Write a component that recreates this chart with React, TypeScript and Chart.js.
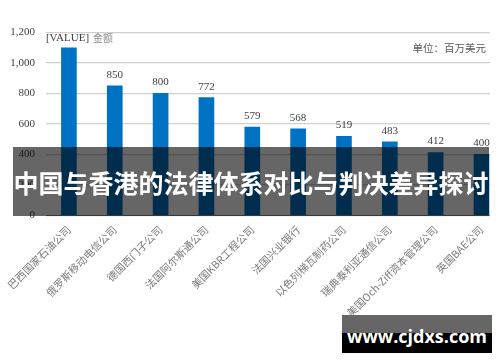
import React, { useEffect, useRef } from 'react';
import { Chart, registerables } from 'chart.js';

Chart.register(...registerables);

const categories = [
  '巴西国家石油公司',
  '俄罗斯移动电信公司',
  '德国西门子公司',
  '法国阿尔斯通公司',
  '美国KBR工程公司',
  '法国兴业银行',
  '以色列梯瓦制药公司',
  '瑞典泰利亚通信公司',
  '美国Och-Ziff资本管理公司',
  '英国BAE公司',
];
const values = [1100, 850, 800, 772, 579, 568, 519, 483, 412, 400];
const valueLabels = ['[VALUE]', '850', '800', '772', '579', '568', '519', '483', '412', '400'];
const firstLabelSuffix = '金额';
const yMin = 0;
const yMax = 1200;
const yStep = 200;
const unitText = '单位：百万美元';
const bannerTitle = '中国与香港的法律体系对比与判决差异探讨';
const watermarkText = 'www.cjdxs.com';

const CANVAS_W = 520;
const CANVAS_H = 362;

export default function App() {
  const canvasRef = useRef<HTMLCanvasElement | null>(null);

  useEffect(() => {
    const canvas = canvasRef.current;
    if (!canvas) return;

    const labelPlugin = {
      id: 'valueLabels',
      afterDatasetsDraw(chart: any) {
        const ctx = chart.ctx;
        const meta = chart.getDatasetMeta(0);
        ctx.save();
        meta.data.forEach((bar: any, i: number) => {
          const { x, y } = bar.getProps(['x', 'y'], true);
          ctx.textBaseline = 'middle';
          if (i === 0) {
            ctx.font = '11px "Liberation Serif"';
            ctx.fillStyle = '#404040';
            ctx.textAlign = 'left';
            const sx = x - 23;
            ctx.fillText(valueLabels[i], sx, y - 10);
            const w = ctx.measureText(valueLabels[i]).width;
            ctx.font = '10px "Noto Sans CJK SC"';
            ctx.fillStyle = '#8c8c8c';
            ctx.fillText(firstLabelSuffix, sx + w + 4, y - 10);
          } else {
            ctx.font = '11px "Liberation Serif"';
            ctx.fillStyle = '#404040';
            ctx.textAlign = 'center';
            ctx.fillText(valueLabels[i], x, y - 11);
          }
        });
        ctx.font = '10.5px "Noto Sans CJK SC"';
        ctx.fillStyle = '#595959';
        ctx.textAlign = 'right';
        ctx.textBaseline = 'middle';
        ctx.fillText(unitText, 486, 48);
        ctx.restore();
      },
    };

    const chart = new Chart(canvas, {
      type: 'bar',
      data: {
        labels: categories,
        datasets: [
          {
            data: values,
            backgroundColor: '#0072c4',
            borderWidth: 0,
            barThickness: 15,
          },
        ],
      },
      options: {
        responsive: false,
        animation: false,
        devicePixelRatio: 1,
        layout: { padding: { top: 32.5, right: 15.6, bottom: 46.7, left: 0 } },
        plugins: {
          legend: { display: false },
          tooltip: { enabled: false },
        },
        scales: {
          x: {
            offset: true,
            grid: { display: false, drawTicks: false },
            border: { display: true, color: '#8a8a8a', width: 1 },
            ticks: {
              autoSkip: false,
              minRotation: 45,
              maxRotation: 45,
              padding: 8,
              color: '#7a7a7a',
              font: { family: '"Noto Sans CJK SC"', size: 10.5 },
            },
            afterFit(scale: any) {
              scale.height = 100;
              scale.paddingLeft = 0;
              scale.paddingRight = 0;
            },
          },
          y: {
            min: yMin,
            max: yMax,
            grid: { color: '#d0d0d0', lineWidth: 1.2, drawTicks: false },
            border: { display: false },
            ticks: {
              stepSize: yStep,
              padding: 11,
              color: '#404040',
              font: { family: '"Liberation Serif"', size: 11 },
              callback: (v: any) => Number(v).toLocaleString('en-US'),
            },
            afterFit(scale: any) {
              scale.width = 46;
            },
          },
        },
      },
      plugins: [labelPlugin],
    });

    return () => chart.destroy();
  }, []);

  return (
    <div
      style={{
        position: 'fixed',
        left: 0,
        top: 0,
        width: 500,
        height: 362,
        background: '#fff',
        overflow: 'hidden',
      }}
    >
      <div style={{ position: 'absolute', left: 0, top: 0, width: 490, height: 362, overflow: 'hidden' }}>
        <canvas
          ref={canvasRef}
          width={CANVAS_W}
          height={CANVAS_H}
          style={{ width: CANVAS_W, height: CANVAS_H, display: 'block' }}
        />
      </div>
      <div
        style={{
          position: 'absolute',
          left: 13,
          top: 147,
          width: 476,
          height: 69,
          background: 'rgba(0,0,0,0.6)',
          display: 'flex',
          alignItems: 'center',
          justifyContent: 'center',
          overflow: 'visible',
        }}
      >
        <span
          style={{
            color: '#fff',
            fontFamily: '"Noto Sans CJK SC"',
            fontWeight: 700,
            fontSize: 25,
            whiteSpace: 'nowrap',
            lineHeight: '30px',
          }}
        >
          {bannerTitle}
        </span>
      </div>
      <div
        style={{
          position: 'absolute',
          left: 342,
          top: 315,
          width: 150,
          height: 38,
          background: 'linear-gradient(#666 0, #666 18px, #000 18px, #000 38px)',
          display: 'flex',
          alignItems: 'center',
          justifyContent: 'center',
        }}
      >
        <span
          style={{
            color: '#fff',
            fontFamily: '"Open Sans"',
            fontWeight: 700,
            fontSize: 18,
            whiteSpace: 'nowrap',
            lineHeight: '20px',
            marginTop: 4,
          }}
        >
          {watermarkText}
        </span>
      </div>
    </div>
  );
}
